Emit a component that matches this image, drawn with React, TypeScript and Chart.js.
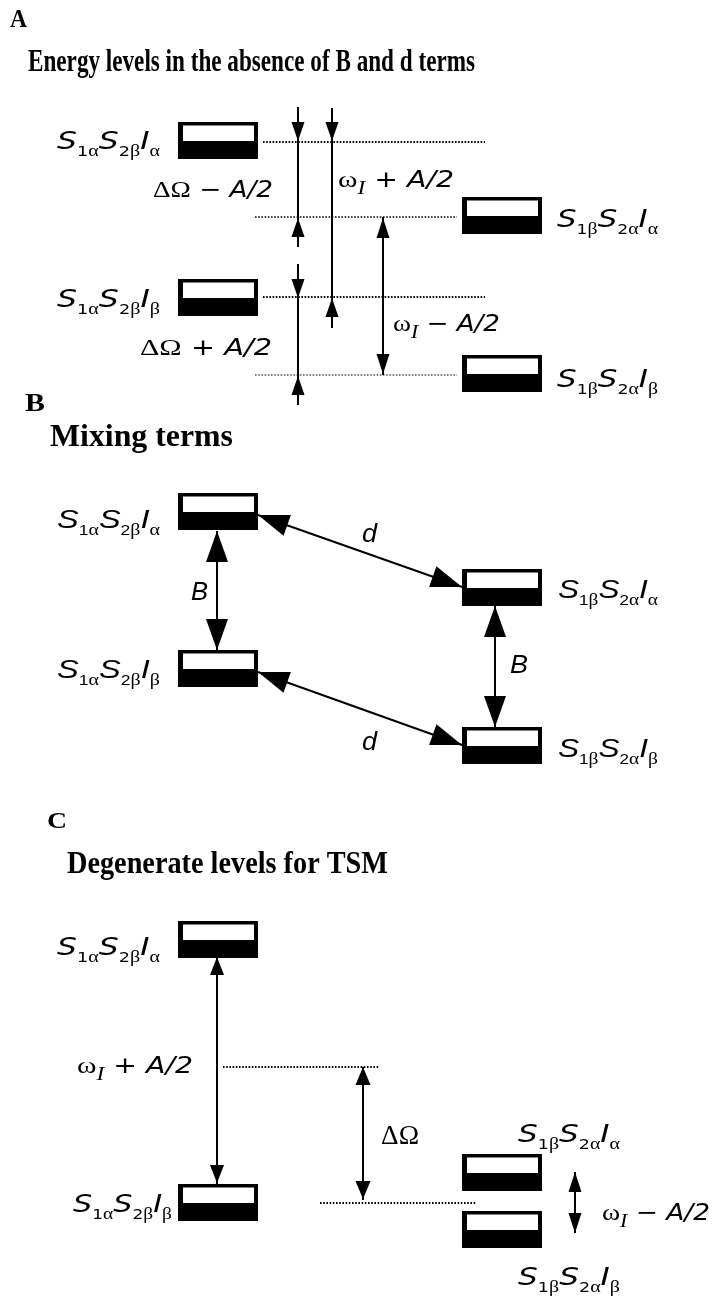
import React, { useEffect, useRef } from "react";
import { Chart, registerables } from "chart.js";

Chart.register(...registerables);

const W = 716;
const H = 1299;

// ---------- Panel headings ----------
const headingText = [
  "A",
  "Energy levels in the absence of B and d terms",
  "B",
  "Mixing terms",
  "C",
  "Degenerate levels for TSM",
];
const headingX = [10, 28, 25, 50, 47, 67];
const headingY = [27, 71, 411, 446, 828, 873];
const headingW = [17, 447, 20, 183, 20, 321];
const headingSize = [26, 32, 26, 32, 24, 32];

// ---------- Level boxes (left, top) ----------
const boxLeft = [178, 462, 178, 462, 178, 462, 178, 462, 178, 178, 462, 462];
const boxTop = [122, 197, 279, 355, 493, 569, 650, 727, 921, 1184, 1154, 1211];

// ---------- Level labels: spin states S1, S2, I ----------
const labelS1 = ["α", "β", "α", "β", "α", "β", "α", "β", "α", "α", "β", "β"];
const labelS2 = ["β", "α", "β", "α", "β", "α", "β", "α", "β", "β", "α", "α"];
const labelI = ["α", "α", "β", "β", "α", "α", "β", "β", "α", "β", "α", "β"];
const labelX = [57, 557, 57, 557, 57, 558, 57, 558, 57, 73, 518, 518];
const labelY = [149, 227, 307, 387, 528, 598, 678, 757, 955, 1212, 1142, 1285];
const labelW = [103, 101, 103, 101, 103, 100, 103, 100, 103, 99, 102, 102];
const labelPanel = ["A", "A", "A", "A", "B", "B", "B", "B", "C", "C", "C", "C"];

// ---------- Energy gap / coupling labels ----------
const gapText = ["ΔΩ − A/2", "ΔΩ + A/2", "ωI + A/2", "ωI − A/2", "B", "B", "d", "d", "ωI + A/2", "ΔΩ", "ωI − A/2"];
const gapX = [153, 140, 338, 393, 191, 510, 362, 362, 77, 381, 602];
const gapY = [197, 355, 187, 331, 600, 673, 542, 750, 1073, 1144, 1220];
const gapW = [120, 132, 116, 107, 17, 18, 15, 15, 116, 38, 108];
const gapPanel = ["A", "A", "A", "A", "B", "B", "B", "B", "C", "C", "C"];

// ---------- Dotted reference levels ----------
const dotX1 = [263, 255, 263, 255, 223, 320];
const dotX2 = [485, 457, 485, 457, 379, 476];
const dotY = [142, 217, 297, 375, 1067, 1203];
const dotWidth = [2, 1.5, 2, 1.2, 2, 2];

// ---------- Arrow shafts ----------
const shaftX1 = [298, 332, 298, 383, 217, 495, 258, 258, 217, 363, 575];
const shaftY1 = [107, 108, 264, 217, 531, 606, 515, 672, 957, 1067, 1172];
const shaftX2 = [298, 332, 298, 383, 217, 495, 462, 462, 217, 363, 575];
const shaftY2 = [247, 328, 405, 375, 650, 727, 587, 745, 1184, 1200, 1233];

// ---------- Arrow heads: tip, shaft, direction (+1 toward shaft end) ----------
const headX = [298, 298, 332, 332, 298, 298, 383, 383, 217, 217, 495, 495, 258, 462, 258, 462, 217, 217, 363, 363, 575, 575];
const headY = [141, 218, 141, 298, 298, 376, 218, 374, 531, 650, 606, 727, 515, 587, 672, 745, 957, 1183, 1067, 1199, 1172, 1233];
const headShaft = [0, 0, 1, 1, 2, 2, 3, 3, 4, 4, 5, 5, 6, 6, 7, 7, 8, 8, 9, 9, 10, 10];
const headDir = [1, -1, 1, -1, 1, -1, -1, 1, -1, 1, -1, 1, -1, 1, -1, 1, -1, 1, -1, 1, -1, 1];
const headLen = [19, 19, 19, 19, 19, 19, 20, 20, 31, 31, 31, 31, 31, 31, 31, 31, 18, 18, 18, 18, 20, 20];
const headWid = [13, 13, 13, 13, 13, 13, 13, 13, 22, 22, 22, 22, 22, 22, 22, 22, 14, 14, 15, 15, 13, 13];

type Seg = { t: string; font: string; dy: number };

function drawRich(ctx: CanvasRenderingContext2D, segs: Seg[], x: number, y: number, targetW: number) {
  let total = 0;
  for (const s of segs) {
    ctx.font = s.font;
    total += ctx.measureText(s.t).width;
  }
  const sx = total > 0 ? targetW / total : 1;
  ctx.save();
  ctx.translate(x, y);
  ctx.scale(sx, 1);
  ctx.textBaseline = "alphabetic";
  ctx.textAlign = "left";
  let cx = 0;
  for (const s of segs) {
    ctx.font = s.font;
    ctx.fillText(s.t, cx, s.dy);
    cx += ctx.measureText(s.t).width;
  }
  ctx.restore();
}

function sansFamily(panel: string) {
  return panel === "B" ? "'Liberation Sans', Arial, sans-serif" : "'DejaVu Sans', Verdana, sans-serif";
}

function levelSegs(i: number): Seg[] {
  const sans = sansFamily(labelPanel[i]);
  const serif = "'Liberation Serif', 'Times New Roman', serif";
  const big = `italic ${labelPanel[i] === "B" ? 26 : 25}px ${sans}`;
  const subN = `14px ${sans}`;
  const subG = `16px ${serif}`;
  return [
    { t: "S", font: big, dy: 0 },
    { t: "1", font: subN, dy: 7 },
    { t: labelS1[i], font: subG, dy: 7 },
    { t: "S", font: big, dy: 0 },
    { t: "2", font: subN, dy: 7 },
    { t: labelS2[i], font: subG, dy: 7 },
    { t: "I", font: big, dy: 0 },
    { t: labelI[i], font: subG, dy: 7 },
  ];
}

function gapSegs(i: number): Seg[] {
  const sans = sansFamily(gapPanel[i]);
  const serif = "'Liberation Serif', 'Times New Roman', serif";
  const text = gapText[i];
  const onlyDelta = text === "ΔΩ";
  const segs: Seg[] = [];
  for (let k = 0; k < text.length; k++) {
    const c = text[k];
    if (c === "Δ" || c === "Ω" || c === "ω") {
      segs.push({ t: c, font: `${onlyDelta ? 27 : 24}px ${serif}`, dy: 0 });
    } else if (c === "I" && k > 0 && text[k - 1] === "ω") {
      segs.push({ t: c, font: `italic 19px ${serif}`, dy: 7 });
    } else if (c === " " || c === "+" || c === "−") {
      segs.push({ t: c, font: `23px ${sans}`, dy: 0 });
    } else {
      segs.push({ t: c, font: `italic ${gapPanel[i] === "B" ? 25 : 23}px ${sans}`, dy: 0 });
    }
  }
  return segs;
}

const diagramPlugin = {
  id: "diagram",
  afterDatasetsDraw(chart: any) {
    const ctx: CanvasRenderingContext2D = chart.ctx;
    const xs = chart.scales.x;
    const ys = chart.scales.y;
    const px = (v: number) => xs.getPixelForValue(v);
    const py = (v: number) => ys.getPixelForValue(v);
    ctx.save();
    ctx.fillStyle = "#000";

    // boxes
    for (let i = 0; i < boxLeft.length; i++) {
      const x0 = px(boxLeft[i]);
      const y0 = py(boxTop[i]);
      const x1 = px(boxLeft[i] + 80);
      const y1 = py(boxTop[i] + 37);
      ctx.fillStyle = "#000";
      ctx.fillRect(x0, y0, x1 - x0, y1 - y0);
      ctx.fillStyle = "#fff";
      ctx.fillRect(x0 + 5, y0 + 3.5, x1 - x0 - 9, 15.5);
    }

    // arrow heads
    ctx.fillStyle = "#000";
    for (let i = 0; i < headX.length; i++) {
      const s = headShaft[i];
      let dx = px(shaftX2[s]) - px(shaftX1[s]);
      let dy = py(shaftY2[s]) - py(shaftY1[s]);
      const len = Math.hypot(dx, dy);
      dx = (dx / len) * headDir[i];
      dy = (dy / len) * headDir[i];
      const tx = px(headX[i]);
      const ty = py(headY[i]);
      const bx = tx - dx * headLen[i];
      const by = ty - dy * headLen[i];
      const nx = -dy * headWid[i] / 2;
      const ny = dx * headWid[i] / 2;
      ctx.beginPath();
      ctx.moveTo(tx, ty);
      ctx.lineTo(bx + nx, by + ny);
      ctx.lineTo(bx - nx, by - ny);
      ctx.closePath();
      ctx.fill();
    }

    // headings
    for (let i = 0; i < headingText.length; i++) {
      drawRich(
        ctx,
        [{ t: headingText[i], font: `bold ${headingSize[i]}px 'Liberation Serif', 'Times New Roman', serif`, dy: 0 }],
        px(headingX[i]),
        py(headingY[i]),
        headingW[i]
      );
    }

    // level labels
    for (let i = 0; i < labelX.length; i++) {
      drawRich(ctx, levelSegs(i), px(labelX[i]), py(labelY[i]), labelW[i]);
    }

    // gap labels
    for (let i = 0; i < gapText.length; i++) {
      drawRich(ctx, gapSegs(i), px(gapX[i]), py(gapY[i]), gapW[i]);
    }
    ctx.restore();
  },
};

export default function App() {
  const ref = useRef<HTMLCanvasElement | null>(null);

  useEffect(() => {
    document.body.style.margin = "0";
    const canvas = ref.current;
    if (!canvas) return;

    const datasets: any[] = [];
    for (let i = 0; i < dotY.length; i++) {
      datasets.push({
        type: "line",
        data: [
          { x: dotX1[i], y: dotY[i] },
          { x: dotX2[i], y: dotY[i] },
        ],
        borderColor: "#000",
        borderWidth: dotWidth[i],
        borderDash: [1.6, 1.6],
        pointRadius: 0,
        fill: false,
        showLine: true,
      });
    }
    for (let i = 0; i < shaftX1.length; i++) {
      datasets.push({
        type: "line",
        data: [
          { x: shaftX1[i], y: shaftY1[i] },
          { x: shaftX2[i], y: shaftY2[i] },
        ],
        borderColor: "#000",
        borderWidth: 2,
        pointRadius: 0,
        fill: false,
        showLine: true,
      });
    }

    const chart = new Chart(canvas, {
      type: "scatter",
      data: { datasets },
      options: {
        animation: false,
        responsive: false,
        maintainAspectRatio: false,
        devicePixelRatio: 1,
        events: [],
        layout: { padding: 0 },
        plugins: { legend: { display: false }, tooltip: { enabled: false } },
        scales: {
          x: { type: "linear", min: 0, max: W, display: false },
          y: { type: "linear", min: 0, max: H, reverse: true, display: false },
        },
      },
      plugins: [diagramPlugin],
    } as any);

    return () => chart.destroy();
  }, []);

  return (
    <div style={{ position: "absolute", left: 0, top: 0, width: W, height: H, background: "#fff" }}>
      <canvas ref={ref} width={W} height={H} style={{ display: "block" }} />
    </div>
  );
}
